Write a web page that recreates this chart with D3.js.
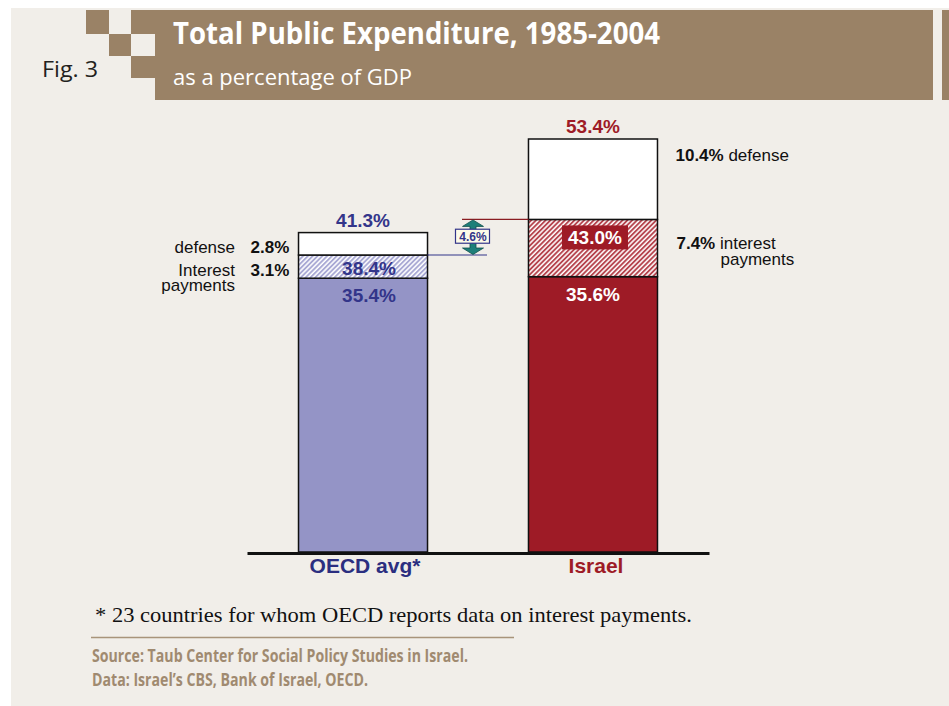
<!DOCTYPE html>
<html>
<head>
<meta charset="utf-8">
<script src="https://cdn.jsdelivr.net/npm/d3@7"></script>
<style>
  html, body { margin: 0; padding: 0; background: #ffffff; }
  svg { display: block; }
</style>
</head>
<body>
<svg id="chart" width="949" height="706"></svg>
<script>
// Stacked public-expenditure bars (% of GDP), cumulative levels per bar
const categories = ["OECD avg*", "Israel"];
const baseLevel = [35.4, 35.6];        // expenditure excluding interest and defense
const withInterest = [38.4, 43.0];     // base + interest payments
const totalLevel = [41.3, 53.4];       // base + interest + defense
const interestShare = ["3.1%", "7.4%"];
const defenseShare = ["2.8%", "10.4%"];
const gapLabel = "4.6%";               // Israel minus OECD, excluding defense

const titleText = "Total Public Expenditure, 1985-2004";
const subtitleText = "as a percentage of GDP";
const figText = "Fig. 3";
const footnoteText = "* 23 countries for whom OECD reports data on interest payments.";
const sourceLines = ["Source: Taub Center for Social Policy Studies in Israel.",
                     "Data: Israel\u2019s CBS, Bank of Israel, OECD."];

const C = {
  panel: "#f1eee9",
  brown: "#9a8266",
  navy: "#33358a",
  navyDark: "#2b2e80",
  lavender: "#9494c6",
  lavStripe: "#a4a4d2",
  red: "#9e1b26",
  redStripe: "#b23a44",
  teal: "#1e7f79",
  source: "#a08a70"
};
const sans = "'Liberation Sans', Arial, Helvetica, sans-serif";
const humanist = "'Open Sans', 'Noto Sans', sans-serif";
const serif = "'Liberation Serif', 'Times New Roman', serif";

const svg = d3.select("#chart");

// ---- page frame and header ----
svg.append("rect").attr("x", 11).attr("y", 8).attr("width", 938).attr("height", 698)
  .attr("fill", C.panel);

const header = svg.append("g");
header.append("rect").attr("x", 155).attr("y", 10).attr("width", 778).attr("height", 90).attr("fill", C.brown);
header.append("rect").attr("x", 942).attr("y", 10).attr("width", 7).attr("height", 90).attr("fill", C.brown);
[[86, 10, 23, 24], [109, 34, 22, 22], [131, 10, 24, 24], [131, 56, 24, 22]].forEach(s =>
  header.append("rect").attr("x", s[0]).attr("y", s[1]).attr("width", s[2]).attr("height", s[3]).attr("fill", C.brown));

header.append("text").attr("x", 42).attr("y", 77).text(figText)
  .attr("font-family", humanist).attr("font-size", 22).attr("fill", "#231f20")
  .attr("textLength", 56).attr("lengthAdjust", "spacingAndGlyphs");
header.append("text").attr("x", 173).attr("y", 44).text(titleText)
  .attr("font-family", humanist).attr("font-weight", 700).attr("font-size", 30).attr("fill", "#ffffff")
  .attr("textLength", 487).attr("lengthAdjust", "spacingAndGlyphs");
header.append("text").attr("x", 173).attr("y", 85).text(subtitleText)
  .attr("font-family", humanist).attr("font-size", 22).attr("fill", "#ffffff")
  .attr("textLength", 239).attr("lengthAdjust", "spacingAndGlyphs");

// ---- hatch patterns for the interest-payment segments ----
const defs = svg.append("defs");
function hatch(id, color) {
  const p = defs.append("pattern").attr("id", id).attr("patternUnits", "userSpaceOnUse")
    .attr("width", 3.4).attr("height", 10).attr("patternTransform", "rotate(45)");
  p.append("rect").attr("width", 3.4).attr("height", 10).attr("fill", "#ffffff");
  p.append("line").attr("x1", 1).attr("x2", 1).attr("y1", 0).attr("y2", 10)
    .attr("stroke", color).attr("stroke-width", 1.8);
}
hatch("hatch-oecd", C.lavStripe);
hatch("hatch-isr", C.redStripe);

// ---- scales ----
const x = d3.scaleBand().domain(categories).range([247, 709])
  .paddingInner(0.439).paddingOuter(0.224);
const y = d3.scaleLinear().domain([0, 53.4]).range([552, 139]);
const bw = x.bandwidth();

const barFill = [C.lavender, C.red];
const hatchFill = ["url(#hatch-oecd)", "url(#hatch-isr)"];
const labelColor = [C.navy, C.red];

const rows = categories.map((c, i) => ({
  cat: c, i,
  segs: [
    { lo: 0, hi: baseLevel[i], fill: barFill[i] },
    { lo: baseLevel[i], hi: withInterest[i], fill: hatchFill[i] },
    { lo: withInterest[i], hi: totalLevel[i], fill: "#ffffff" }
  ]
}));

const bars = svg.append("g").selectAll("g").data(rows).join("g");
bars.selectAll("rect").data(d => d.segs.map(s => ({ ...s, cat: d.cat }))).join("rect")
  .attr("x", d => x(d.cat))
  .attr("y", d => y(d.hi))
  .attr("width", bw)
  .attr("height", d => y(d.lo) - y(d.hi))
  .attr("fill", d => d.fill)
  .attr("stroke", "#111")
  .attr("stroke-width", 1.5);

// solid tag behind the Israel base + interest label
const isrX = x(categories[1]) + bw / 2;
const tagTop = y(withInterest[1]) + 6;
svg.append("rect").attr("x", isrX - 31).attr("y", tagTop).attr("width", 66).attr("height", 24)
  .attr("fill", C.red);

// ---- bar value labels ----
const fmt = v => v.toFixed(1) + "%";
const vlab = svg.append("g").attr("font-family", sans).attr("font-weight", 700)
  .attr("font-size", 19).attr("text-anchor", "middle");

// totals above bars
vlab.selectAll(".tot").data(rows).join("text")
  .attr("x", d => x(d.cat) + bw / 2).attr("y", d => y(totalLevel[d.i]) - 6)
  .attr("fill", d => labelColor[d.i]).text(d => fmt(totalLevel[d.i]));

// base levels just inside the solid segment
vlab.selectAll(".base").data(rows).join("text")
  .attr("x", d => x(d.cat) + bw / 2 + (d.i === 0 ? 6 : 0)).attr("y", d => y(baseLevel[d.i]) + 24)
  .attr("fill", d => d.i === 0 ? C.navy : "#ffffff").text(d => fmt(baseLevel[d.i]));

// OECD base + interest, inside the hatched segment
vlab.append("text")
  .attr("x", x(categories[0]) + bw / 2 + 6).attr("y", (y(withInterest[0]) + y(baseLevel[0])) / 2 + 8)
  .attr("fill", C.navy).text(fmt(withInterest[0]));

// Israel base + interest, on its tag
vlab.append("text").attr("x", isrX + 2).attr("y", tagTop + 19)
  .attr("fill", "#ffffff").text(fmt(withInterest[1]));

// ---- component labels ----
const side = svg.append("g").attr("font-family", sans).attr("font-size", 17).attr("fill", "#111");
const oecdLeft = x(categories[0]);
const yDefL = y(withInterest[0]) - 2;
const yIntL = y(baseLevel[0]) - 2;
side.append("text").attr("x", 235).attr("y", yDefL).attr("text-anchor", "end").text("defense");
side.append("text").attr("x", oecdLeft - 48).attr("y", yDefL).attr("font-weight", 700).text(defenseShare[0]);
side.append("text").attr("x", 235).attr("y", yIntL).attr("text-anchor", "end").text("Interest");
side.append("text").attr("x", oecdLeft - 48).attr("y", yIntL).attr("font-weight", 700).text(interestShare[0]);
side.append("text").attr("x", 235).attr("y", yIntL + 15).attr("text-anchor", "end").text("payments");

const isrRight = x(categories[1]) + bw;
const tDef = side.append("text").attr("x", isrRight + 18).attr("y", y(totalLevel[1]) + 22);
tDef.append("tspan").attr("font-weight", 700).text(defenseShare[1]);
tDef.append("tspan").text(" defense");
const yIntR = (y(withInterest[1]) + y(baseLevel[1])) / 2 + 1;
const tInt = side.append("text").attr("x", isrRight + 19).attr("y", yIntR);
tInt.append("tspan").attr("font-weight", 700).text(interestShare[1]);
tInt.append("tspan").text(" interest");
side.append("text").attr("x", isrRight + 63).attr("y", yIntR + 16).text("payments");

// ---- gap annotation between the two non-defense levels ----
const yTop = y(withInterest[1]);
const yBot = y(withInterest[0]);
const ax = 473;
svg.append("line").attr("x1", 462).attr("x2", x(categories[1])).attr("y1", yTop).attr("y2", yTop)
  .attr("stroke", "#8a1c22").attr("stroke-width", 1.2);
svg.append("line").attr("x1", oecdLeft + bw).attr("x2", 487).attr("y1", yBot).attr("y2", yBot)
  .attr("stroke", C.navy).attr("stroke-width", 1.2);
const hw = 10.5, sw = 3, hh = 7;
const arrow = d3.path();
arrow.moveTo(ax, yTop + 0.5);
arrow.lineTo(ax + hw, yTop + hh);
arrow.lineTo(ax + sw, yTop + hh);
arrow.lineTo(ax + sw, yBot - hh);
arrow.lineTo(ax + hw, yBot - hh);
arrow.lineTo(ax, yBot - 0.5);
arrow.lineTo(ax - hw, yBot - hh);
arrow.lineTo(ax - sw, yBot - hh);
arrow.lineTo(ax - sw, yTop + hh);
arrow.lineTo(ax - hw, yTop + hh);
arrow.closePath();
svg.append("path").attr("d", arrow.toString()).attr("fill", C.teal)
  .attr("stroke", "#0f4f4b").attr("stroke-width", 0.8);
const boxMid = (yTop + yBot) / 2 - 1;
svg.append("rect").attr("x", 455.5).attr("y", boxMid - 7).attr("width", 34).attr("height", 14)
  .attr("fill", "#fdfbe8").attr("stroke", C.navy).attr("stroke-width", 1.2);
svg.append("text").attr("x", ax).attr("y", boxMid + 4.5).attr("text-anchor", "middle")
  .attr("font-family", sans).attr("font-weight", 700).attr("font-size", 12)
  .attr("fill", C.navy).text(gapLabel);

// ---- category axis ----
const axis = svg.append("g").attr("transform", "translate(0,553)")
  .call(d3.axisBottom(x).tickSize(0).tickSizeOuter(0).tickPadding(5));
axis.select(".domain").attr("stroke", "#111").attr("stroke-width", 3);
axis.selectAll(".tick text")
  .attr("font-family", sans).attr("font-weight", 700).attr("font-size", 21)
  .attr("fill", (d, i) => i === 0 ? C.navyDark : C.red)
  .attr("dx", (d, i) => i === 0 ? 2 : 3);

// ---- footnote and sources ----
svg.append("text").attr("x", 95).attr("y", 622).text(footnoteText)
  .attr("font-family", serif).attr("font-size", 22).attr("fill", "#111")
  .attr("textLength", 597).attr("lengthAdjust", "spacingAndGlyphs");
svg.append("line").attr("x1", 91).attr("x2", 514).attr("y1", 637.5).attr("y2", 637.5)
  .attr("stroke", "#a8947a").attr("stroke-width", 1.5);
const srcLen = [376, 276];
sourceLines.forEach((t, i) => svg.append("text").attr("x", 92).attr("y", 662 + i * 24).text(t)
  .attr("font-family", humanist).attr("font-weight", 700).attr("font-size", 17).attr("fill", C.source)
  .attr("textLength", srcLen[i]).attr("lengthAdjust", "spacingAndGlyphs"));
</script>
</body>
</html>
